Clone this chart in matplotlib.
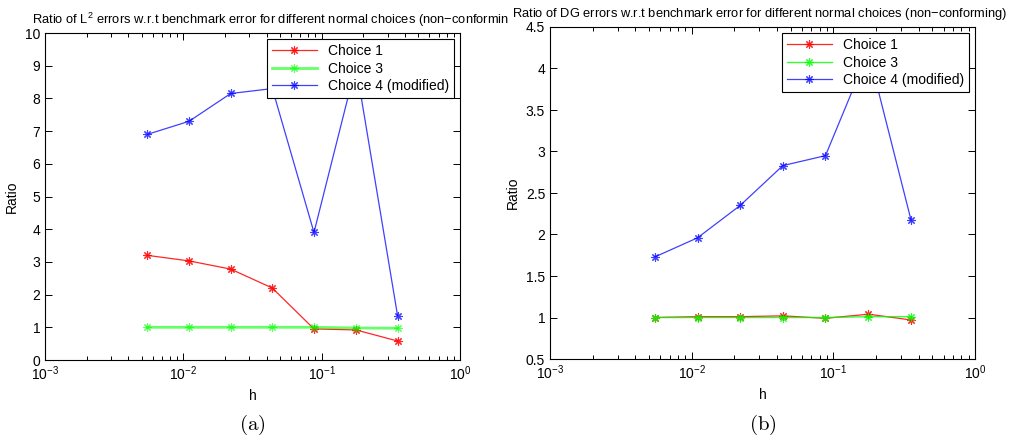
import matplotlib
matplotlib.use("Agg")
import matplotlib.pyplot as plt
from matplotlib.ticker import FuncFormatter, LogLocator, NullFormatter
from matplotlib.patches import Rectangle

h = [0.0055, 0.011, 0.022, 0.044, 0.088, 0.177, 0.354]

l2_choice1 = [3.2, 3.03, 2.78, 2.2, 0.95, 0.92, 0.58]
l2_choice3 = [1.0, 1.0, 1.0, 1.0, 1.0, 0.98, 0.97]
l2_choice4 = [6.9, 7.3, 8.15, 8.3, 3.9, 9.0, 1.35]

dg_choice1 = [1.0, 1.01, 1.01, 1.02, 0.99, 1.04, 0.97]
dg_choice3 = [1.0, 1.0, 1.0, 1.0, 1.0, 1.01, 1.01]
dg_choice4 = [1.73, 1.96, 2.35, 2.83, 2.95, 4.2, 2.17]

labels = ["Choice 1", "Choice 3", "Choice 4 (modified)"]
titles = [r"Ratio of L$^2$ errors w.r.t benchmark error for different normal choices (non$-$conforming)",
          r"Ratio of DG errors w.r.t benchmark error for different normal choices (non$-$conforming)"]
ylims = [(0, 10), (0.5, 4.5)]
yticks = [[0, 1, 2, 3, 4, 5, 6, 7, 8, 9, 10], [0.5, 1, 1.5, 2, 2.5, 3, 3.5, 4, 4.5]]
panel = ["(a)", "(b)"]

plt.rcParams['font.family'] = ['Liberation Sans', 'DejaVu Sans']
plt.rcParams['mathtext.fontset'] = 'custom'
plt.rcParams['mathtext.rm'] = 'Liberation Sans'
plt.rcParams['mathtext.it'] = 'Liberation Sans:italic'

W, H = 1020, 440
fig = plt.figure(figsize=(W / 100, H / 100), dpi=100)
rects = [(45, 33, 460, 360), (550, 27, 975, 359)]
data = [(l2_choice1, l2_choice3, l2_choice4), (dg_choice1, dg_choice3, dg_choice4)]
mk = (8, 2, 0)
title_left = [32, 512]

for i in range(2):
    x0, y0, x1, y1 = rects[i]
    ax = fig.add_axes([x0 / W, 1 - y1 / H, (x1 - x0) / W, (y1 - y0) / H])
    c1, c3, c4 = data[i]
    ax.plot(h, c1, color='#ff0000', lw=0.9, marker=mk, ms=6, mew=0.8, label=labels[0], alpha=0.85)
    ax.plot(h, c3, color='#00ff00', lw=2.0 if i == 0 else 1.0, marker=mk, ms=6, mew=0.8, label=labels[1],
            alpha=0.6 if i == 0 else 0.8)
    ax.plot(h, c4, color='#0000ff', lw=0.9, marker=mk, ms=6, mew=0.8, label=labels[2], alpha=0.75)
    ax.set_xscale('log')
    ax.set_xlim(1e-3, 1e0)
    ax.set_ylim(*ylims[i])
    ax.set_yticks(yticks[i])
    ax.yaxis.set_major_formatter(FuncFormatter(lambda v, p: '%g' % v))
    ax.xaxis.set_major_locator(LogLocator(base=10, numticks=10))
    ax.xaxis.set_minor_locator(LogLocator(base=10, subs=range(2, 10), numticks=10))
    ax.xaxis.set_minor_formatter(NullFormatter())
    ax.tick_params(which='both', direction='in', top=True, right=True, labelsize=10, width=0.7)
    ax.tick_params(which='major', length=5)
    ax.tick_params(which='minor', length=3)
    for s in ax.spines.values():
        s.set_linewidth(0.8)
    ax.set_xlabel('h', fontsize=10)
    ax.set_ylabel('Ratio', fontsize=10)
    t = fig.text(title_left[i] / W, 1 - (20 if i == 0 else 14) / H, titles[i], fontsize=9.3,
                 ha='left', va='center')
    if i == 0:
        clip = Rectangle((0, 0), 508 / W, 1, transform=fig.transFigure, visible=False)
        fig.add_artist(clip)
        t.set_clip_path(clip)
    leg = ax.legend(loc='upper right', fontsize=10, fancybox=False, edgecolor='black',
                    framealpha=1, borderaxespad=0.45, handlelength=3.2, labelspacing=0.25,
                    borderpad=0.35)
    leg.get_frame().set_linewidth(0.8)
    fig.text((x0 + x1) / 2 / W, 1 - 425 / H, r'$\mathrm{' + panel[i] + '}$', ha='center', va='center',
             fontsize=15, math_fontfamily='cm')

fig.savefig('out.png', dpi=100)
